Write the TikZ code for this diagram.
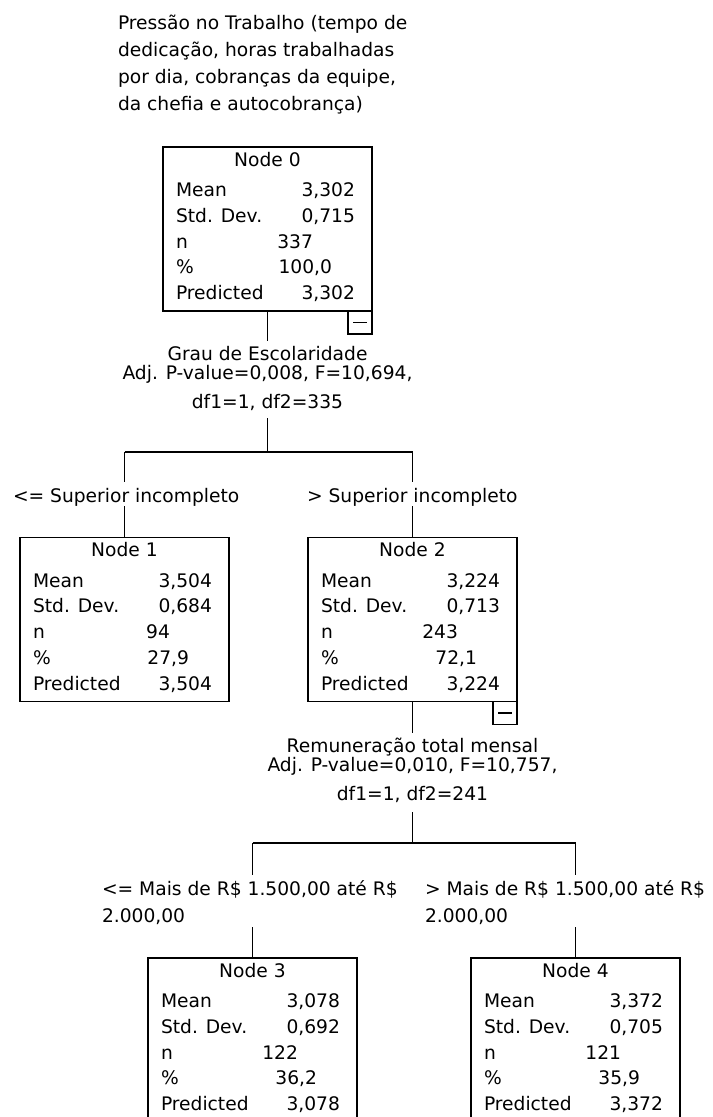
\documentclass[tikz,border=0pt]{standalone}
\usepackage{fontspec}
\setmainfont{DejaVu Sans}
\tikzset{
  ln/.style={draw=black, line width=1.1pt},
  nbox/.style={draw=black, line width=1.1pt, fill=white, inner sep=0pt, outer sep=0pt,
    minimum width=156.75pt, minimum height=123pt, rectangle},
  minusbox/.style={draw=black, line width=1.1pt, inner sep=0pt, outer sep=0pt,
    minimum width=18pt, minimum height=17.25pt, rectangle},
  txt/.style={inner sep=0pt, outer sep=0pt, font=\fontsize{14pt}{17pt}\selectfont, text=black},
}
\newcommand{\spssnode}[9]{%
  \node[nbox,anchor=north west] (#1) at (#2,#3) {};
  \node[txt,anchor=base] (#1-title) at (#2+104.5,#3+19) {#4};
  \node[txt,anchor=base west] (#1-l1) at (#2+13,#3+49.5) {Mean};
  \node[txt,anchor=base east] (#1-v1) at (#2+192,#3+49.5) {#5};
  \node[txt,anchor=base west] (#1-l2) at (#2+13,#3+75.3) {Std. Dev.};
  \node[txt,anchor=base east] (#1-v2) at (#2+192,#3+75.3) {#6};
  \node[txt,anchor=base west] (#1-l3) at (#2+13,#3+101.1) {n};
  \node[txt,anchor=base east] (#1-v3) at (#2+150,#3+101.1) {#7};
  \node[txt,anchor=base west] (#1-l4) at (#2+13,#3+126.9) {\%};
  \node[txt,anchor=base east] (#1-v4) at (#2+169,#3+126.9) {#8};
  \node[txt,anchor=base west] (#1-l5) at (#2+13,#3+152.7) {Predicted};
  \node[txt,anchor=base east] (#1-v5) at (#2+192,#3+152.7) {#9};
}
\newcommand{\minusmark}[1]{%
  \node[minusbox,anchor=north east] (#1-m) at (#1.south east) {};
  \draw[ln] ([xshift=-5.25pt]#1-m.center) -- ([xshift=5.25pt]#1-m.center);
}
\begin{document}
\begin{tikzpicture}[x=0.75pt,y=-0.75pt]
\path[use as bounding box] (0,0) rectangle (713,1117);
\clip (0,0) rectangle (713,1117);
\fill[white] (0,0) rectangle (713,1117);

% title of dependent variable
\node[txt,anchor=base west] (t1) at (118,29) {Pressão no Trabalho (tempo de};
\node[txt,anchor=base west] (t2) at (118,56) {dedicação, horas trabalhadas};
\node[txt,anchor=base west] (t3) at (118,83) {por dia, cobranças da equipe,};
\node[txt,anchor=base west] (t4) at (118,110) {da chefia e autocobrança)};

% nodes
\spssnode{n0}{163}{147}{Node 0}{3,302}{0,715}{337}{100,0}{3,302}
\minusmark{n0}
\spssnode{n1}{20}{537.5}{Node 1}{3,504}{0,684}{94}{27,9}{3,504}
\spssnode{n2}{308}{537.5}{Node 2}{3,224}{0,713}{243}{72,1}{3,224}
\minusmark{n2}
\spssnode{n3}{148}{958}{Node 3}{3,078}{0,692}{122}{36,2}{3,078}
\spssnode{n4}{471}{958}{Node 4}{3,372}{0,705}{121}{35,9}{3,372}

% split 0
\node[txt,anchor=base] (s0a) at (267.5,360) {Grau de Escolaridade};
\node[txt,anchor=base] (s0b) at (267.5,379) {Adj. P-value=0,008, F=10,694,};
\node[txt,anchor=base] (s0c) at (267.5,408) {df1=1, df2=335};
\coordinate (s0top) at (267.5,341);
\coordinate (s0bot) at (267.5,418);
\coordinate (h0) at (267.5,452);
\coordinate (h1) at (124.5,452);
\coordinate (h2) at (412.5,452);
\coordinate (e1a) at (124.5,482);
\coordinate (e1b) at (124.5,506);
\coordinate (e2a) at (412.5,482);
\coordinate (e2b) at (412.5,506);
\draw[ln] (n0.south) -- (s0top);
\draw[ln] (s0bot) -- (h0);
\draw[ln] (h1) -- (h2);
\draw[ln] (h1) -- (e1a);
\draw[ln] (e1b) -- (n1.north);
\draw[ln] (h2) -- (e2a);
\draw[ln] (e2b) -- (n2.north);
\node[txt,anchor=base west] (e1) at (13,502) {<= Superior incompleto};
\node[txt,anchor=base west] (e2) at (307,502) {> Superior incompleto};

% split 2
\node[txt,anchor=base] (s2a) at (412.5,752) {Remuneração total mensal};
\node[txt,anchor=base] (s2b) at (412.5,771) {Adj. P-value=0,010, F=10,757,};
\node[txt,anchor=base] (s2c) at (412.5,800) {df1=1, df2=241};
\coordinate (s2top) at (412.5,733);
\coordinate (s2bot) at (412.5,812);
\coordinate (h5) at (412.5,843);
\coordinate (h3) at (252.5,843);
\coordinate (h4) at (575.5,843);
\coordinate (e3a) at (252.5,875);
\coordinate (e3b) at (252.5,927);
\coordinate (e4a) at (575.5,875);
\coordinate (e4b) at (575.5,927);
\draw[ln] (n2.south) -- (s2top);
\draw[ln] (s2bot) -- (h5);
\draw[ln] (h3) -- (h4);
\draw[ln] (h3) -- (e3a);
\draw[ln] (e3b) -- (n3.north);
\draw[ln] (h4) -- (e4a);
\draw[ln] (e4b) -- (n4.north);
\node[txt,anchor=base west] (e3) at (102,895) {<= Mais de R\$ 1.500,00 até R\$};
\node[txt,anchor=base west] (e3l2) at (102,922) {2.000,00};
\node[txt,anchor=base west] (e4) at (425,895) {> Mais de R\$ 1.500,00 até R\$};
\node[txt,anchor=base west] (e4l2) at (425,922) {2.000,00};
\end{tikzpicture}
\end{document}
